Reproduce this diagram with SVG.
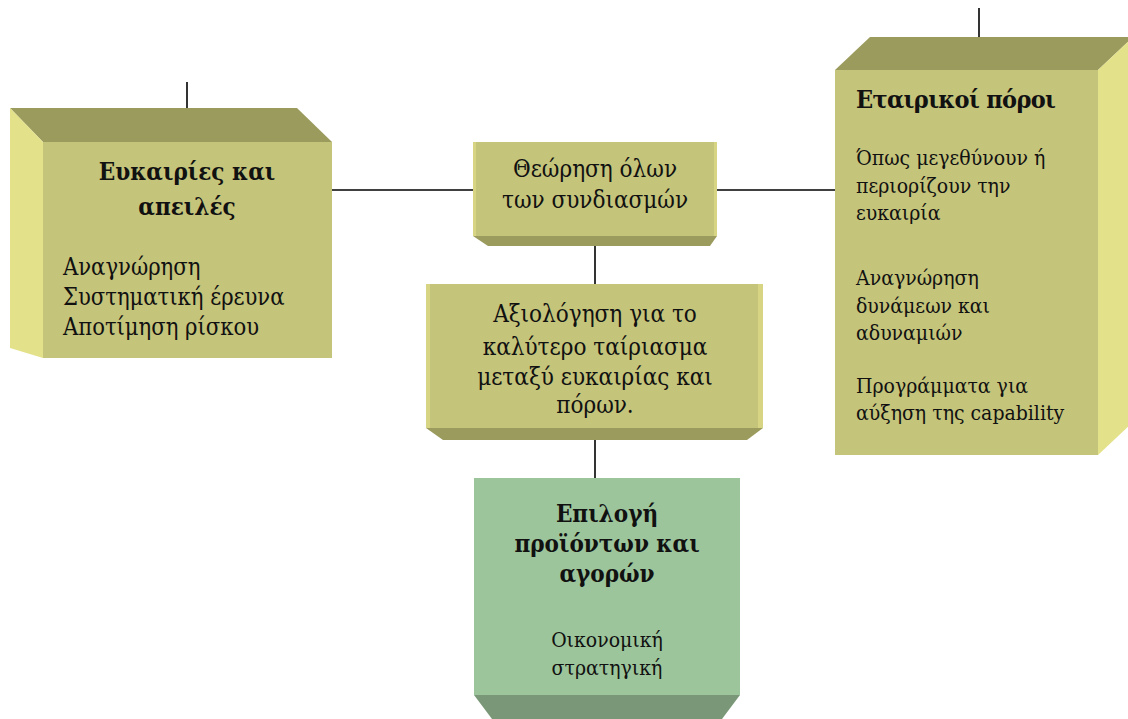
<svg xmlns="http://www.w3.org/2000/svg" width="1128" height="719" viewBox="0 0 1128 719">
<style>
.front{fill:#c5c47b}
.top{fill:#9c9b5e}
.side{fill:#e3e189}
.gfront{fill:#9dc59b}
.gbottom{fill:#7a9877}
.t{font-family:"DejaVu Serif Condensed","DejaVu Serif","Liberation Serif",serif;fill:#111}
.b{font-weight:bold}
.c{text-anchor:middle}
.conn{stroke:#000;stroke-width:1.6;fill:none}
</style>
<rect width="1128" height="719" fill="#fff"/>
<g id="connectors">
<line class="conn" x1="187" y1="82" x2="187" y2="142"/>
<line class="conn" x1="979" y1="8" x2="979" y2="70"/>
<line class="conn" x1="332" y1="190" x2="473" y2="190"/>
<line class="conn" x1="717" y1="190" x2="835" y2="190"/>
<line class="conn" x1="595" y1="237" x2="595" y2="284"/>
<line class="conn" x1="595" y1="430" x2="595" y2="478"/>
</g>
<g id="node-left">
<polygon class="top" points="10,108 297,108 332,142 43,142"/>
<polygon class="side" points="10,108 43,142 43,358 10,348"/>
<rect class="front" x="43" y="142" width="289" height="216"/>
<text class="t b c" x="187" y="180" font-size="24">Ευκαιρίες και</text>
<text class="t b c" x="187" y="215" font-size="24">απειλές</text>
<text class="t" x="63" y="275" font-size="23.5">Αναγνώρηση</text>
<text class="t" x="63" y="305" font-size="23.5">Συστηματική έρευνα</text>
<text class="t" x="63" y="335" font-size="23.5">Αποτίμηση ρίσκου</text>
</g>
<g id="node-combos">
<polygon class="top" points="473,236 717,236 710,246 488,246"/>
<rect class="front" x="473" y="142" width="244" height="94"/>
<rect class="side" x="473" y="142" width="3" height="94" opacity="0.6"/>
<rect class="side" x="714" y="142" width="3" height="94" opacity="0.6"/>
<text class="t c" x="595" y="177" font-size="24">Θεώρηση όλων</text>
<text class="t c" x="595" y="208" font-size="24">των συνδιασμών</text>
</g>
<g id="node-eval">
<polygon class="top" points="426,428 763,428 747,440 443,440"/>
<rect class="front" x="426" y="284" width="337" height="144"/>
<rect class="side" x="426" y="284" width="4" height="144" opacity="0.6"/>
<rect class="side" x="758" y="284" width="5" height="144" opacity="0.6"/>
<text class="t c" x="595" y="322" font-size="24">Αξιολόγηση για το</text>
<text class="t c" x="595" y="355" font-size="24">καλύτερο ταίριασμα</text>
<text class="t c" x="595" y="385" font-size="24">μεταξύ ευκαιρίας και</text>
<text class="t c" x="595" y="413" font-size="24">πόρων.</text>
</g>
<g id="node-resources">
<polygon class="top" points="835,70 870,37 1133,37 1098,70"/>
<polygon class="side" points="1098,70 1133,37 1133,422 1098,455"/>
<rect class="front" x="835" y="70" width="263" height="385"/>
<text class="t b" x="856" y="108" font-size="25" textLength="200" lengthAdjust="spacing">Εταιρικοί πόροι</text>
<text class="t" x="856" y="165" font-size="21">Όπως μεγεθύνουν ή</text>
<text class="t" x="856" y="193" font-size="21">περιορίζουν την</text>
<text class="t" x="856" y="220" font-size="21">ευκαιρία</text>
<text class="t" x="856" y="285" font-size="21">Αναγνώρηση</text>
<text class="t" x="856" y="313" font-size="21">δυνάμεων και</text>
<text class="t" x="856" y="340" font-size="21">αδυναμιών</text>
<text class="t" x="856" y="393" font-size="21">Προγράμματα για</text>
<text class="t" x="856" y="420" font-size="21">αύξηση της capability</text>
</g>
<g id="node-selection">
<rect class="gfront" x="474" y="478" width="266" height="217"/>
<polygon class="gbottom" points="474,695 740,695 722,719 492,719"/>
<text class="t b c" x="607" y="522" font-size="24">Επιλογή</text>
<text class="t b c" x="607" y="552" font-size="24">προϊόντων και</text>
<text class="t b c" x="607" y="582" font-size="24">αγορών</text>
<text class="t c" x="607" y="647" font-size="21">Οικονομική</text>
<text class="t c" x="607" y="675" font-size="21">στρατηγική</text>
</g>
</svg>
